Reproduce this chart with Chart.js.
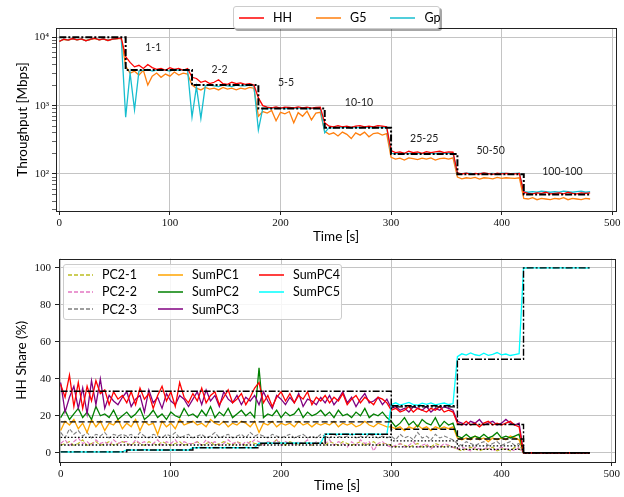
<!DOCTYPE html>
<html>
<head>
<meta charset="utf-8">
<script src="https://cdn.jsdelivr.net/npm/chart.js@4.4.0/dist/chart.umd.min.js"></script>
<style>
    body { margin: 0; background: #fff; width: 624px; height: 497px; position: relative; overflow: hidden; font-family: Lato, sans-serif; }
    canvas { position: absolute; left: 0; }
    #topChart { top: 0; }
    #bottomChart { top: 248px; }
    .legend { position: absolute; background: rgba(255,255,255,0.85); border: 1px solid #cccccc; border-radius: 3px; font-size: 12.5px; color: #000; box-sizing: border-box; }
    .legend .item { display: flex; align-items: center; white-space: nowrap; }
    .legend svg { margin-right: 9px; flex: none; }
    #legendTop { left: 233px; top: 6px; width: 207px; height: 23px; display: flex; align-items: center; padding: 0 5px; box-shadow: 2px 2px 0 rgba(0,0,0,0.35); }
    #legendTop .item { margin-right: 24px; }
    #legendTop .item:last-child { margin-right: 0; }
    #legendBottom { left: 63px; top: 264px; width: 279px; height: 56px; padding: 1px 4px 2px 4px; display: grid; grid-template-columns: 90px 101px auto; grid-template-rows: repeat(3, 17.3px); grid-auto-flow: column; }
</style>
</head>
<body>
<canvas id="topChart" width="624" height="248"></canvas>
<canvas id="bottomChart" width="624" height="249"></canvas>
<div id="legendTop" class="legend"></div>
<div id="legendBottom" class="legend"></div>
<script>
// ---------- time axis (one sample every 4 s) ----------
const times = Array.from({ length: 121 }, (_, i) => i * 4);
const refTimes = [0, 60, 120, 180, 240, 300, 360, 420, 480];
const xTicks = [0, 100, 200, 300, 400, 500];

// ---------- top: throughput [Mbps] ----------
const hhThroughput = [
    8700, 9400, 9100, 9600, 9200, 9500, 8900, 9300, 9700, 9200, 9500, 9000, 9400, 9600, 9800,
    5200, 4300, 3700, 3900, 3500, 4000, 3600, 3400, 3500, 3300, 3600, 3400, 3500, 3300, 3500,
    2600, 2500, 2200, 2300, 2100, 2200, 2400, 2100, 2050, 2200, 2100, 2150, 2050, 2100, 2000,
    1300, 1000, 950, 930, 960, 920, 950, 940, 930, 960, 930, 950, 920, 940, 950,
    560, 500, 490, 510, 490, 500, 480, 500, 510, 490, 500, 490, 510, 500, 490,
    220, 205, 210, 200, 215, 205, 210, 200, 212, 205, 210, 215, 205, 210, 208,
    104, 100, 103, 99, 102, 100, 104, 101, 99, 103, 100, 102, 101, 100, 102,
    54, 52, 51, 53, 52, 54, 51, 52, 53, 51, 54, 52, 51, 53, 52, 53
];
const g5Throughput = [
    8800, 9300, 9100, 9500, 9200, 9400, 9000, 9300, 9600, 9200, 9400, 9000, 9400, 9500, 9700,
    3800, 3000, 3200, 2800, 3300, 2000, 2700, 3000, 2600, 2900, 2700, 3100, 2800, 3000, 2900,
    2000, 1800, 1700, 1850, 1750, 1800, 1700, 1850, 1750, 1800, 1700, 1800, 1750, 1850, 1800,
    700, 820, 780, 850, 600, 800, 760, 820, 560, 790, 700, 830, 620, 780, 800,
    420, 380, 400, 360, 410, 380, 330, 400, 370, 410, 350, 390, 400, 370, 390,
    175, 165, 170, 160, 172, 168, 162, 170, 165, 172, 160, 168, 170, 165, 172,
    90, 85, 88, 86, 89, 84, 88, 87, 85, 89, 86, 88, 87, 86, 88,
    44, 43, 45, 42, 44, 43, 42, 44, 43, 45, 42, 44, 43, 42, 44, 43
];
const gpThroughput = [
    8700, 9400, 9100, 9600, 9200, 9500, 8900, 9300, 9700, 9200, 9500, 9000, 9400, 9600, 9800,
    680, 3000, 870, 3200, 3300, 3400, 3200, 3300, 3400, 3300, 3200, 3400, 3300, 3350, 3300,
    680, 1900, 650, 1950, 2000, 1950, 1900, 2000, 1950, 1900, 2000, 1950, 1950, 2000, 1950,
    440, 920, 900, 930, 910, 920, 900, 930, 910, 920, 930, 900, 920, 910, 920,
    400, 480, 470, 480, 475, 485, 470, 480, 475, 485, 480, 470, 480, 475, 480,
    200, 198, 202, 200, 199, 201, 200, 198, 202, 200, 199, 201, 200, 202, 200,
    102, 101, 103, 102, 100, 102, 103, 101, 102, 100, 103, 102, 101, 102, 103,
    55, 54, 55, 54, 56, 55, 54, 55, 54, 56, 55, 54, 55, 56, 54, 55
];
const capacityRef = [10000, 3333, 2000, 909, 476, 196, 99, 50, 50];

const phaseLabels = ['1-1', '2-2', '5-5', '10-10', '25-25', '50-50', '100-100'];
const phaseLabelX = [85, 145, 205, 271, 330, 390, 455];
const phaseLabelY = [6970, 3320, 2160, 1100, 332, 219, 108];

const yTopMajor = [100, 1000, 10000];
const yTopLabels = ['10²', '10³', '10⁴'];

// ---------- bottom: HH share (%) ----------
const pc21 = [
    4, 5, 6, 4, 5, 7, 4, 5, 6, 4, 5, 6, 4, 5, 6,
    5, 4, 6, 5, 4, 6, 5, 4, 6, 5, 4, 5, 6, 4, 5,
    5, 6, 4, 5, 6, 4, 5, 6, 5, 4, 6, 5, 4, 6, 5,
    5, 4, 6, 5, 7, 5, 4, 6, 5, 4, 6, 5, 4, 5, 6,
    4, 6, 5, 4, 6, 5, 4, 5, 6, 4, 5, 6, 4, 5, 5,
    4, 3, 5, 4, 3, 4, 5, 3, 4, 3, 5, 4, 3, 4, 3,
    2, 1, 2, 3, 2, 1, 2, 2, 3, 1, 2, 2, 1, 3, 2,
    0, 0, 0, 0, 0, 0, 0, 0, 0, 0, 0, 0, 0, 0, 0, 0
];
const pc22 = [
    5, 7, 4, 6, 8, 5, 6, 4, 7, 5, 6, 4, 7, 5, 6,
    6, 4, 7, 5, 6, 4, 5, 7, 4, 6, 5, 7, 4, 6, 5,
    5, 6, 4, 7, 5, 6, 4, 5, 7, 5, 6, 4, 6, 5, 7,
    6, 4, 6, 5, 7, 4, 6, 5, 4, 6, 5, 7, 4, 6, 5,
    5, 7, 4, 6, 5, 3, 6, 4, 7, 5, 6, 1, 5, 6, 4,
    3, 4, 5, 3, 4, 6, 3, 4, 5, 2, 4, 3, 5, 4, 3,
    2, 3, 2, 1, 3, 2, 2, 3, 1, 2, 3, 2, 2, 1, 3,
    0, 0, 0, 0, 0, 0, 0, 0, 0, 0, 0, 0, 0, 0, 0, 0
];
const pc23 = [
    11, 8, 13, 10, 12, 9, 11, 8, 10, 9, 11, 8, 10, 9, 10,
    9, 10, 8, 11, 9, 8, 10, 9, 8, 10, 9, 11, 8, 9, 10,
    8, 9, 10, 8, 9, 11, 8, 9, 10, 8, 9, 10, 8, 11, 9,
    10, 9, 8, 10, 9, 8, 9, 10, 8, 9, 10, 8, 9, 8, 10,
    9, 8, 10, 9, 8, 9, 10, 8, 9, 8, 10, 9, 8, 9, 8,
    9, 7, 10, 8, 9, 7, 11, 8, 9, 7, 10, 8, 9, 8, 7,
    5, 4, 6, 5, 4, 5, 6, 4, 5, 6, 4, 5, 6, 4, 5,
    0, 0, 0, 0, 0, 0, 0, 0, 0, 0, 0, 0, 0, 0, 0, 0
];
const sumPC1 = [
    12, 17, 15, 18, 13, 16, 11, 18, 14, 17, 12, 16, 15, 18, 13,
    16, 14, 18, 12, 17, 15, 16, 10, 17, 14, 16, 13, 18, 15, 16,
    17, 15, 16, 14, 18, 16, 15, 17, 14, 16, 15, 17, 16, 14, 17,
    11, 16, 15, 17, 14, 16, 15, 16, 14, 17, 15, 16, 14, 16, 15,
    16, 15, 17, 14, 16, 15, 16, 14, 15, 17, 15, 14, 16, 15, 14,
    14, 13, 14, 12, 14, 13, 15, 13, 14, 12, 14, 13, 14, 13, 14,
    8, 7, 8, 7, 9, 7, 8, 6, 8, 7, 8, 7, 9, 8, 7,
    0, 0, 0, 0, 0, 0, 0, 0, 0, 0, 0, 0, 0, 0, 0, 0
];
const sumPC2 = [
    19, 23, 18, 21, 24, 19, 22, 18, 25, 20, 21, 19, 23, 18, 20,
    22, 19, 21, 24, 18, 20, 23, 19, 21, 18, 22, 20, 19, 24, 20,
    21, 19, 23, 20, 25, 19, 22, 20, 24, 19, 21, 23, 20, 22, 19,
    46, 19, 21, 20, 23, 19, 22, 20, 21, 24, 19, 22, 20, 21, 23,
    20, 22, 19, 23, 20, 21, 19, 22, 20, 24, 19, 21, 20, 22, 19,
    17, 14, 16, 19, 15, 17, 14, 18, 16, 15, 19, 14, 17, 15, 16,
    9, 8, 10, 8, 9, 8, 10, 8, 9, 11, 8, 9, 8, 9, 10,
    0, 0, 0, 0, 0, 0, 0, 0, 0, 0, 0, 0, 0, 0, 0, 0
];
const sumPC3 = [
    38, 22, 30, 36, 24, 35, 21, 39, 26, 40, 24, 31, 28, 26, 30,
    33, 25, 29, 31, 22, 34, 27, 30, 24, 32, 28, 26, 31, 29, 25,
    29, 33, 26, 34, 28, 31, 25, 33, 29, 27, 31, 26, 30, 28, 31,
    26, 33, 28, 24, 31, 29, 26, 30, 27, 32, 25, 29, 28, 26, 30,
    27, 31, 26, 29, 33, 27, 30, 25, 29, 32, 27, 28, 30, 26, 29,
    24, 25, 23, 24, 22, 25, 24, 23, 25, 22, 24, 23, 25, 24, 23,
    17, 16, 15, 17, 16, 18, 15, 16, 17, 15, 16, 18, 16, 15, 16,
    0, 0, 0, 0, 0, 0, 0, 0, 0, 0, 0, 0, 0, 0, 0, 0
];
const sumPC4 = [
    37, 30, 42, 25, 38, 24, 36, 28, 39, 32, 34, 26, 33, 29, 31,
    27, 33, 26, 35, 29, 32, 24, 31, 36, 28, 33, 25, 38, 30, 27,
    32, 28, 35, 27, 31, 33, 26, 30, 34, 27, 29, 32, 26, 30, 35,
    38, 27, 31, 25, 30, 33, 28, 32, 27, 31, 29, 33, 26, 30, 28,
    31, 27, 30, 28, 32, 26, 29, 31, 27, 30, 28, 26, 30, 29, 27,
    23, 24, 22, 23, 25, 22, 24, 23, 22, 24, 23, 25, 22, 23, 22,
    16, 15, 17, 15, 16, 14, 16, 17, 15, 16, 15, 16, 17, 15, 14,
    0, 0, 0, 0, 0, 0, 0, 0, 0, 0, 0, 0, 0, 0, 0, 0
];
const sumPC5 = [
    0.5, 0.6, 0.4, 0.5, 0.6, 0.5, 0.4, 0.6, 0.5, 0.5, 0.6, 0.4, 0.5, 0.6, 0.5,
    1.5, 1.6, 1.4, 1.5, 1.7, 1.5, 1.4, 1.6, 1.5, 1.4, 1.6, 1.5, 1.5, 1.6, 1.4,
    2.8, 2.7, 2.9, 2.8, 2.6, 2.9, 2.8, 2.7, 2.9, 2.8, 2.7, 2.8, 2.9, 2.7, 2.8,
    5.2, 5.1, 5.3, 5.2, 5.0, 5.3, 5.2, 5.1, 5.3, 5.2, 5.1, 5.3, 5.2, 5.1, 5.2,
    10, 10.2, 9.9, 10.1, 10, 10.2, 9.8, 10.1, 10, 9.9, 10.2, 10, 10.1, 9.9, 10,
    26, 27, 25.8, 26.5, 27.2, 26, 25.7, 26.8, 26.2, 27, 25.9, 26.4, 26.9, 26.1, 26.5,
    52, 53.5, 52.8, 54, 53, 52.5, 53.8, 52.7, 53.2, 54.2, 52.9, 53.4, 52.6, 53.1, 53.6,
    100, 99.8, 100, 100, 99.9, 100, 100, 99.8, 100, 100, 99.9, 100, 100, 100, 99.9, 100
];
// expected shares (black reference steps)
const refShareTop = [33.3, 33.3, 33.3, 33.3, 33.3, 24.8, 15.3, 0, 0];
const refShareHalf = [16.7, 16.7, 16.7, 16.7, 16.7, 12.7, 7.4, 0, 0];
const refShareQuarter = [8.3, 8.3, 8.3, 8.3, 8.3, 6.4, 3.7, 0, 0];
const refShareEighth = [4.2, 4.2, 4.2, 4.2, 4.2, 3.2, 1.8, 0, 0];
const refSharePC5 = [0.5, 1.5, 2.7, 5.1, 10, 25.4, 50.6, 100, 100];
const yBottomTicks = [0, 20, 40, 60, 80, 100];

// ---------- styling ----------
const TICK_FONT = { family: "'Liberation Serif', 'DejaVu Serif', serif", size: 11 };
const TITLE_FONT = { family: 'Lato, sans-serif', size: 13.5 };
const GRID = '#c4c4c4';
const DASHDOT = [7, 2, 2, 2];

const pts = (arr) => times.map((t, i) => ({ x: t, y: arr[i] }));
const refPts = (arr) => refTimes.map((t, i) => ({ x: t, y: arr[i] }));

function line(label, arr, color, order, extra) {
    return Object.assign({
        label, data: pts(arr), borderColor: color, borderWidth: 1.3,
        pointRadius: 0, fill: false, tension: 0, order
    }, extra || {});
}
// stepped 'before': hold the value until the next time, then drop
function ref(arr, dash, width, order) {
    return {
        label: '', data: refPts(arr), borderColor: '#000', borderWidth: width,
        borderDash: dash, stepped: 'before', pointRadius: 0, fill: false, order
    };
}

const framePlugin = {
    id: 'frame',
    afterDraw(chart) {
        const { ctx, chartArea: a } = chart;
        ctx.save();
        ctx.strokeStyle = '#222';
        ctx.lineWidth = 1;
        ctx.strokeRect(Math.round(a.left) + 0.5, Math.round(a.top) + 0.5, Math.round(a.right - a.left), Math.round(a.bottom - a.top));
        ctx.restore();
    }
};

const phasePlugin = {
    id: 'phases',
    afterDatasetsDraw(chart) {
        const { ctx, scales } = chart;
        ctx.save();
        ctx.font = '10.5px Lato, sans-serif';
        ctx.fillStyle = '#222';
        ctx.textAlign = 'center';
        ctx.textBaseline = 'middle';
        phaseLabels.forEach((txt, i) => {
            ctx.fillText(txt, scales.x.getPixelForValue(phaseLabelX[i]), scales.y.getPixelForValue(phaseLabelY[i]));
        });
        ctx.restore();
    }
};

function xScale(min, max, height) {
    return {
        type: 'linear', min, max,
        afterBuildTicks: (s) => { s.ticks = xTicks.map(v => ({ value: v })); },
        afterFit: (s) => { s.height = height; },
        ticks: { font: TICK_FONT, color: '#111', padding: 2, maxRotation: 0, autoSkip: false },
        grid: { color: GRID, lineWidth: 1, tickColor: '#222', tickLength: 4 },
        border: { display: false },
        title: { display: true, text: 'Time [s]', font: TITLE_FONT, color: '#000', padding: { top: 0, bottom: 3 } }
    };
}

// ---------- top chart ----------
const minorTop = [];
[10, 100, 1000].forEach(d => { for (let k = 2; k <= 9; k++) minorTop.push(d * k); });
const topTickValues = minorTop.concat(yTopMajor).filter(v => v >= 28.7 && v <= 13700).sort((a, b) => a - b);

new Chart(document.getElementById('topChart'), {
    type: 'line',
    data: {
        datasets: [
            line('G5', g5Throughput, '#ff7f0e', 5),
            line('Gp', gpThroughput, '#17becf', 4),
            line('HH', hhThroughput, '#ff0000', 3),
            ref(capacityRef, DASHDOT, 2, 1)
        ]
    },
    options: {
        responsive: false, animation: false, events: [],
        layout: { padding: { top: 28, right: 8, left: 0, bottom: 0 } },
        plugins: { legend: { display: false }, tooltip: { enabled: false } },
        scales: {
            x: xScale(-3, 503.4, 37),
            y: {
                type: 'logarithmic', min: 28.7, max: 13700,
                afterBuildTicks: (s) => { s.ticks = topTickValues.map(v => ({ value: v })); },
                afterFit: (s) => { s.width = 56; },
                ticks: {
                    font: TICK_FONT, color: '#111', padding: 3, autoSkip: false,
                    callback: (v) => { const i = yTopMajor.indexOf(v); return i >= 0 ? yTopLabels[i] : ''; }
                },
                grid: {
                    color: (c) => yTopMajor.includes(c.tick && c.tick.value) ? GRID : 'rgba(0,0,0,0)',
                    tickColor: '#222', tickLength: 4,
                    tickWidth: (c) => yTopMajor.includes(c.tick && c.tick.value) ? 1 : 0.7
                },
                border: { display: false },
                title: { display: true, text: 'Throughput [Mbps]', font: TITLE_FONT, color: '#000', padding: { top: 15, bottom: 0 } }
            }
        }
    },
    plugins: [framePlugin, phasePlugin]
});

// ---------- bottom chart ----------
new Chart(document.getElementById('bottomChart'), {
    type: 'line',
    data: {
        datasets: [
            line('PC2-1', pc21, '#bcbd22', 20, { borderDash: [4, 2], borderWidth: 1.1 }),
            line('PC2-2', pc22, '#e377c2', 19, { borderDash: [4, 2], borderWidth: 1.1 }),
            line('PC2-3', pc23, '#7f7f7f', 18, { borderDash: [4, 2], borderWidth: 1.1 }),
            line('SumPC1', sumPC1, '#ffa500', 17),
            line('SumPC2', sumPC2, '#008000', 16),
            line('SumPC3', sumPC3, '#800080', 15),
            line('SumPC4', sumPC4, '#ff0000', 14),
            line('SumPC5', sumPC5, '#00ffff', 13),
            ref(refShareTop, DASHDOT, 1.4, 5),
            ref(refShareHalf, [6, 3], 1.4, 4),
            ref(refShareQuarter, [1.5, 2], 1.3, 3),
            ref(refShareEighth, [1.5, 2], 1.3, 2),
            ref(refSharePC5, DASHDOT, 1.4, 1)
        ]
    },
    options: {
        responsive: false, animation: false, events: [],
        layout: { padding: { top: 10, right: 9, left: 0, bottom: 0 } },
        plugins: { legend: { display: false }, tooltip: { enabled: false } },
        scales: {
            x: xScale(-1.5, 503, 35),
            y: {
                type: 'linear', min: -5, max: 105,
                afterBuildTicks: (s) => { s.ticks = yBottomTicks.map(v => ({ value: v })); },
                afterFit: (s) => { s.width = 59; },
                ticks: { font: TICK_FONT, color: '#111', padding: 4, autoSkip: false },
                grid: { color: GRID, lineWidth: 1, tickColor: '#222', tickLength: 4 },
                border: { display: false },
                title: { display: true, text: 'HH Share (%)', font: TITLE_FONT, color: '#000', padding: { top: 14, bottom: 0 } }
            }
        }
    },
    plugins: [framePlugin]
});

// ---------- legends ----------
const topLegendNames = ['HH', 'G5', 'Gp'];
const topLegendColors = ['#ff0000', '#ff7f0e', '#17becf'];
const bottomLegendNames = ['PC2-1', 'PC2-2', 'PC2-3', 'SumPC1', 'SumPC2', 'SumPC3', 'SumPC4', 'SumPC5'];
const bottomLegendColors = ['#bcbd22', '#e377c2', '#7f7f7f', '#ffa500', '#008000', '#800080', '#ff0000', '#00ffff'];

function swatch(color, dashed) {
    return `<svg width="25" height="6"><line x1="0" y1="3" x2="25" y2="3" stroke="${color}" stroke-width="1.5"${dashed ? ' stroke-dasharray="4,2"' : ''}/></svg>`;
}
document.getElementById('legendTop').innerHTML = topLegendNames.map((n, i) =>
    `<div class="item">${swatch(topLegendColors[i], false)}<span>${n}</span></div>`).join('');
document.getElementById('legendBottom').innerHTML = bottomLegendNames.map((n, i) =>
    `<div class="item">${swatch(bottomLegendColors[i], n.startsWith('PC2'))}<span>${n}</span></div>`).join('');
</script>
</body>
</html>
